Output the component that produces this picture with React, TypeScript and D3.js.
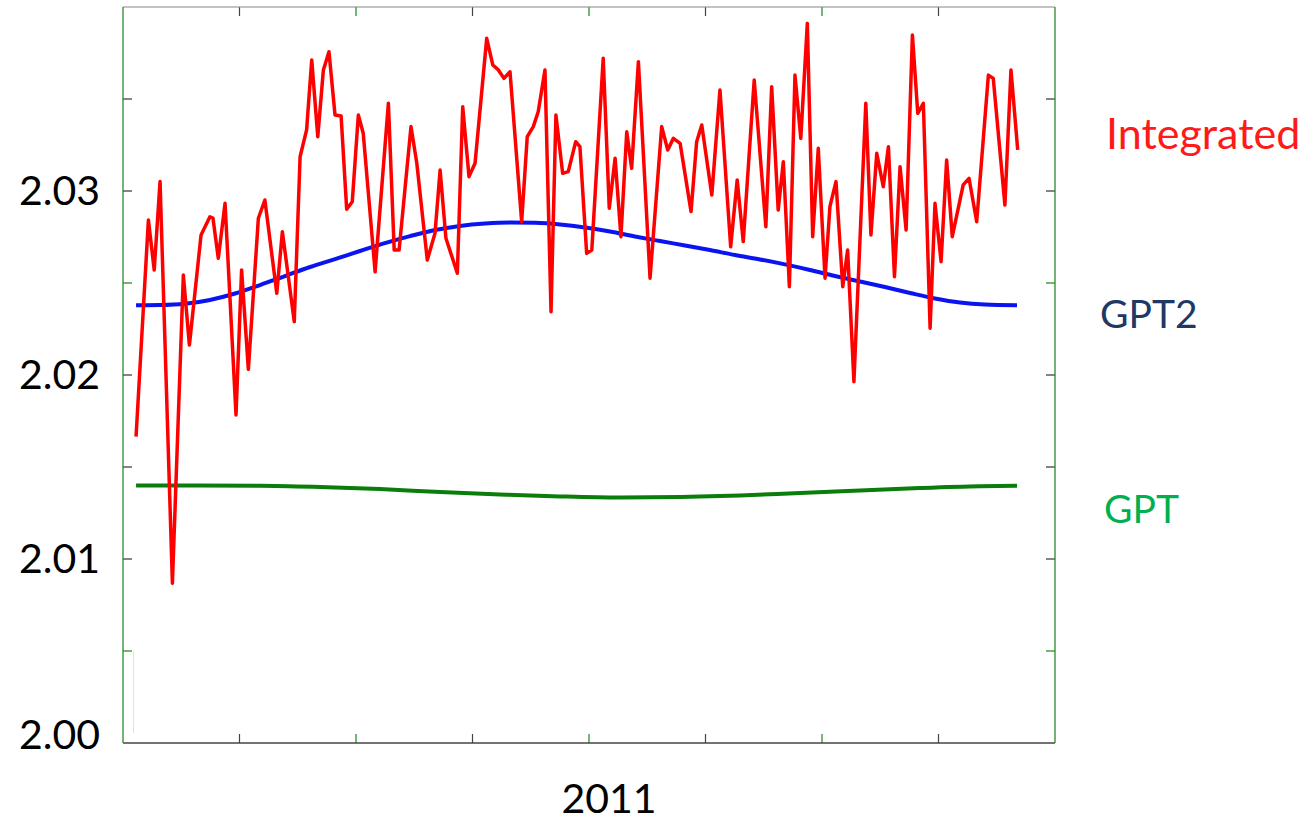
import React, { useRef, useEffect } from 'react';
import * as d3 from 'd3';

// day index along 2011 and the value read at that day
const integratedDays = [5.6, 10.9, 13.4, 15.9, 21.2, 25.9, 28.5, 33.5, 37.3, 38.6, 40.9, 43.8, 48.5, 50.9, 53.8, 58.1, 60.9, 66.0, 68.4, 73.5, 76.0, 78.8, 81.0, 83.6, 86.0, 88.4, 91.0, 93.6, 96.0, 98.4, 101.0, 103.1, 108.2, 113.9, 116.4, 118.5, 123.6, 126.1, 130.6, 133.9, 136.1, 138.6, 143.5, 145.8, 148.5, 151.1, 156.1, 158.7, 161.1, 163.5, 166.1, 171.1, 173.5, 176.1, 178.2, 181.1, 183.7, 185.8, 188.7, 191.1, 194.3, 196.1, 199.0, 201.2, 206.1, 208.7, 211.2, 213.7, 216.2, 218.3, 221.2, 226.2, 231.2, 233.8, 236.2, 239.1, 243.8, 246.2, 248.4, 252.7, 256.2, 260.8, 263.6, 266.2, 270.9, 275.9, 278.4, 281.2, 283.4, 286.0, 288.4, 290.9, 293.7, 296.0, 298.4, 301.3, 303.4, 306.0, 308.9, 311.0, 313.7, 318.8, 321.0, 323.5, 326.3, 328.5, 331.1, 333.5, 336.1, 338.8, 341.1, 343.5, 346.4, 348.5, 351.1, 353.5, 355.9, 360.6, 363.1, 366.4, 371.4, 373.5, 378.5, 381.1, 384.0];
const integratedValues = [2.01665, 2.02842, 2.02571, 2.03051, 2.00868, 2.02543, 2.02163, 2.02761, 2.0286, 2.02853, 2.02634, 2.02933, 2.01783, 2.02571, 2.02031, 2.02852, 2.02951, 2.02444, 2.02779, 2.0229, 2.03186, 2.03332, 2.03712, 2.03295, 2.03658, 2.03757, 2.03413, 2.03408, 2.02901, 2.02942, 2.03413, 2.03314, 2.02561, 2.03477, 2.02679, 2.02679, 2.0335, 2.03151, 2.02625, 2.0277, 2.03114, 2.02743, 2.02553, 2.03458, 2.03078, 2.03151, 2.0383, 2.03685, 2.03658, 2.03612, 2.03648, 2.02833, 2.03295, 2.0335, 2.03431, 2.03658, 2.02344, 2.03413, 2.03096, 2.03105, 2.03268, 2.03241, 2.02661, 2.02679, 2.03721, 2.02906, 2.03178, 2.02752, 2.03322, 2.03123, 2.03703, 2.02526, 2.0335, 2.03223, 2.03286, 2.03259, 2.02888, 2.03268, 2.03359, 2.02978, 2.03549, 2.02697, 2.0306, 2.02725, 2.03603, 2.02806, 2.03567, 2.02897, 2.03159, 2.0248, 2.0363, 2.03286, 2.03911, 2.02752, 2.03232, 2.02526, 2.02915, 2.03051, 2.0248, 2.02679, 2.01964, 2.03477, 2.02761, 2.03205, 2.03023, 2.03241, 2.02534, 2.03132, 2.02788, 2.03848, 2.03422, 2.03477, 2.02254, 2.02933, 2.02616, 2.03168, 2.02752, 2.03033, 2.03069, 2.02833, 2.0363, 2.03612, 2.02924, 2.03658, 2.03223];

const gpt2Days = [5.6, 15.9, 26.6, 37.3, 48.1, 58.8, 69.5, 80.3, 91.0, 101.7, 112.4, 123.2, 133.9, 144.6, 155.4, 166.1, 176.8, 187.6, 198.3, 209.0, 219.7, 230.5, 241.2, 251.9, 262.7, 273.4, 284.1, 294.8, 305.6, 316.3, 327.0, 337.8, 348.5, 359.2, 369.9, 383.7];
const gpt2Values = [2.02379, 2.0238, 2.02387, 2.02408, 2.02443, 2.02489, 2.02538, 2.02587, 2.0263, 2.02674, 2.02717, 2.02755, 2.02788, 2.0281, 2.02823, 2.02829, 2.02827, 2.02818, 2.02802, 2.0278, 2.02753, 2.02728, 2.02704, 2.02679, 2.02652, 2.02628, 2.02601, 2.02571, 2.02538, 2.02508, 2.02478, 2.02446, 2.02416, 2.02394, 2.02383, 2.02379];

const gptDays = [5.6, 33.0, 58.8, 84.5, 110.3, 136.1, 161.8, 187.6, 213.3, 239.1, 264.8, 290.6, 316.3, 342.1, 367.8, 383.7];
const gptValues = [2.01399, 2.01399, 2.01398, 2.01391, 2.0138, 2.01364, 2.01351, 2.0134, 2.01334, 2.01337, 2.01345, 2.01359, 2.01372, 2.01386, 2.01396, 2.01398];

const yLabels = [2.0, 2.01, 2.02, 2.03];
const yMinorTicks = [2.005, 2.01, 2.015, 2.02, 2.025, 2.03, 2.035];
const xTicks = [50, 100, 150, 200, 250, 300, 350];
const xLabel = '2011';

const Chart = () => {
  const svgRef = useRef<SVGSVGElement | null>(null);

  useEffect(() => {
    if (!svgRef.current) return;
    const svg = d3.select(svgRef.current);
    svg.selectAll('*').remove();

    const left = 123, right = 1055, top = 7, bottom = 743;
    const x = d3.scaleLinear().domain([0, 400]).range([left, right]);
    const y = d3.scaleLinear().domain([2.0, 2.04]).range([bottom, top]);
    const font = 'Lato, "Open Sans", sans-serif';

    // faint leftover line near the lower left
    svg.append('line')
      .attr('x1', 133.5).attr('x2', 133.5)
      .attr('y1', y(2.005)).attr('y2', bottom - 10)
      .attr('stroke', '#d6ebd6').attr('stroke-width', 1);

    // ticks
    const greenY = [2.005, 2.025];
    yMinorTicks.forEach(v => {
      const c = greenY.includes(v) ? '#138a13' : '#333';
      svg.append('line').attr('x1', left).attr('x2', left + 9)
        .attr('y1', y(v)).attr('y2', y(v)).attr('stroke', c).attr('stroke-width', 1.2);
      svg.append('line').attr('x1', right - 9).attr('x2', right)
        .attr('y1', y(v)).attr('y2', y(v)).attr('stroke', c).attr('stroke-width', 1.2);
    });
    xTicks.forEach((d, i) => {
      const c = i % 2 === 1 ? '#138a13' : '#444';
      svg.append('line').attr('x1', x(d)).attr('x2', x(d))
        .attr('y1', bottom).attr('y2', bottom - 9).attr('stroke', c).attr('stroke-width', 1.2);
      svg.append('line').attr('x1', x(d)).attr('x2', x(d))
        .attr('y1', top).attr('y2', top + 9).attr('stroke', c).attr('stroke-width', 1.2);
    });

    // frame
    svg.append('line').attr('x1', left).attr('x2', right).attr('y1', top).attr('y2', top)
      .attr('stroke', '#888').attr('stroke-width', 1.2);
    svg.append('line').attr('x1', left).attr('x2', right).attr('y1', bottom).attr('y2', bottom)
      .attr('stroke', '#444').attr('stroke-width', 1.3);
    svg.append('line').attr('x1', left).attr('x2', left).attr('y1', top).attr('y2', bottom)
      .attr('stroke', '#2a8a2a').attr('stroke-width', 1.3);
    svg.append('line').attr('x1', right).attr('x2', right).attr('y1', top).attr('y2', bottom)
      .attr('stroke', '#2a8a2a').attr('stroke-width', 1.3);

    const line = d3.line<[number, number]>()
      .x(d => x(d[0]))
      .y(d => y(d[1]));
    const smooth = d3.line<[number, number]>()
      .x(d => x(d[0]))
      .y(d => y(d[1]))
      .curve(d3.curveMonotoneX);

    svg.append('path')
      .datum(d3.zip(gptDays, gptValues) as [number, number][])
      .attr('d', smooth).attr('fill', 'none')
      .attr('stroke', '#0a7d0a').attr('stroke-width', 4);

    svg.append('path')
      .datum(d3.zip(gpt2Days, gpt2Values) as [number, number][])
      .attr('d', smooth).attr('fill', 'none')
      .attr('stroke', '#0a14f0').attr('stroke-width', 4);

    svg.append('path')
      .datum(d3.zip(integratedDays, integratedValues) as [number, number][])
      .attr('d', line).attr('fill', 'none')
      .attr('stroke', '#ff0000').attr('stroke-width', 3.5)
      .attr('stroke-linejoin', 'round');

    // y labels
    yLabels.forEach(v => {
      svg.append('text')
        .attr('x', 100).attr('y', y(v) - (v === 2.0 ? 8 : 0))
        .attr('dy', '0.35em').attr('text-anchor', 'end')
        .attr('font-family', font).attr('font-size', 41).attr('fill', '#000')
        .text(v.toFixed(2));
    });

    svg.append('text')
      .attr('x', 609).attr('y', 813).attr('text-anchor', 'middle')
      .attr('font-family', font).attr('font-size', 41).attr('fill', '#000')
      .text(xLabel);

    // series names
    svg.append('text').attr('x', 1106).attr('y', 149)
      .attr('font-family', font).attr('font-size', 43).attr('fill', '#ff1a1a')
      .text('Integrated');
    svg.append('text').attr('x', 1100).attr('y', 328)
      .attr('font-family', font).attr('font-size', 39).attr('fill', '#203864')
      .text('GPT2');
    svg.append('text').attr('x', 1104).attr('y', 523)
      .attr('font-family', font).attr('font-size', 39).attr('fill', '#00b050')
      .text('GPT');
  }, []);

  return (
    <svg ref={svgRef} width={1310} height={823}
      style={{ position: 'absolute', left: 0, top: 0, background: 'white' }} />
  );
};

export default function App() {
  return <Chart />;
}
